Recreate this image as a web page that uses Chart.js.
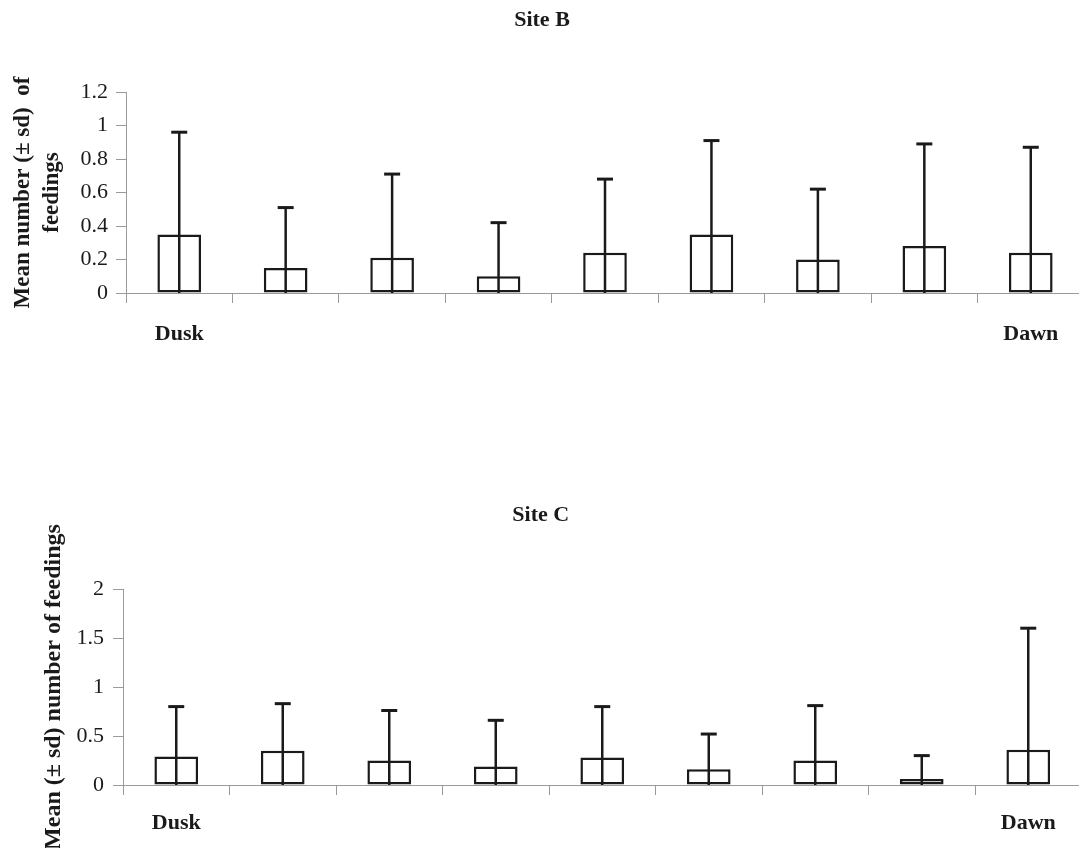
<!DOCTYPE html>
<html>
<head>
<meta charset="utf-8">
<script src="https://cdn.jsdelivr.net/npm/chart.js@4/dist/chart.umd.min.js"></script>
<style>
    html, body { margin: 0; padding: 0; background: #fff; overflow: hidden; }
    canvas { position: absolute; left: 0; }
    #chartB { top: 0; }
    #chartC { top: 460px; }
</style>
</head>
<body>
<canvas id="chartB" width="1090" height="365"></canvas>
<canvas id="chartC" width="1090" height="388"></canvas>
<script>
// hourly periods from dusk to dawn
const periods = ['Dusk', '', '', '', '', '', '', '', 'Dawn'];

// Site B
const meanB = [0.35, 0.15, 0.21, 0.10, 0.24, 0.35, 0.20, 0.28, 0.24];
const sdB = [0.61, 0.36, 0.50, 0.32, 0.44, 0.56, 0.42, 0.61, 0.63];
const tickLabelsB = ['0', '0.2', '0.4', '0.6', '0.8', '1', '1.2'];

// Site C
const meanC = [0.29, 0.35, 0.25, 0.19, 0.28, 0.16, 0.25, 0.06, 0.36];
const sdC = [0.51, 0.48, 0.51, 0.47, 0.52, 0.36, 0.56, 0.24, 1.24];
const tickLabelsC = ['0', '0.5', '1', '1.5', '2'];

const SERIF = '"Liberation Serif", "DejaVu Serif", serif';
const INK = '#1a1a1a';
const AXIS = '#9a9a9a';

Chart.defaults.font.family = SERIF;
Chart.defaults.color = INK;

const errorBars = {
    id: 'errorBars',
    afterDatasetsDraw(chart, args, opts) {
        const { ctx, scales: { y } } = chart;
        const meta = chart.getDatasetMeta(0);
        const y0 = y.getPixelForValue(0);
        ctx.save();
        ctx.strokeStyle = INK;
        meta.data.forEach((bar, i) => {
            const top = y.getPixelForValue(opts.mean[i] + opts.sd[i]);
            ctx.lineWidth = 2.5;
            ctx.beginPath();
            ctx.moveTo(bar.x, y0);
            ctx.lineTo(bar.x, top);
            ctx.stroke();
            ctx.lineWidth = 3;
            ctx.beginPath();
            ctx.moveTo(bar.x - 8, top);
            ctx.lineTo(bar.x + 8, top);
            ctx.stroke();
        });
        ctx.restore();
    }
};

const makeChart = (id, cfg) => {
    new Chart(document.getElementById(id), {
        type: 'bar',
        data: {
            labels: periods,
            datasets: [{
                data: cfg.mean,
                backgroundColor: '#ffffff',
                borderColor: INK,
                borderWidth: 2.5,
                borderSkipped: false,
                categoryPercentage: 1,
                barPercentage: 0.41
            }]
        },
        plugins: [errorBars],
        options: {
            responsive: false,
            animation: false,
            layout: { padding: { left: 0, right: cfg.padRight, top: 0, bottom: 0 } },
            plugins: {
                legend: { display: false },
                tooltip: { enabled: false },
                title: {
                    display: true,
                    text: cfg.title,
                    color: INK,
                    font: { size: 22, weight: 'bold', family: SERIF, lineHeight: 1.2 },
                    padding: cfg.titlePad
                },
                errorBars: { mean: cfg.mean, sd: cfg.sd }
            },
            scales: {
                x: {
                    grid: { drawOnChartArea: false, drawTicks: true, tickLength: 10, color: AXIS },
                    border: { display: true, color: AXIS },
                    ticks: {
                        autoSkip: false,
                        maxRotation: 0,
                        padding: cfg.xPad,
                        color: INK,
                        font: { size: 22, weight: 'bold', family: SERIF }
                    },
                    afterFit: (scale) => { scale.height = cfg.xHeight; }
                },
                y: {
                    min: 0,
                    max: cfg.max,
                    grid: { drawOnChartArea: false, drawTicks: true, tickLength: 10, color: AXIS },
                    border: { display: true, color: AXIS },
                    ticks: {
                        stepSize: cfg.step,
                        padding: cfg.yPad,
                        color: INK,
                        font: { size: 22, family: SERIF },
                        callback: (value, index) => cfg.tickLabels[index]
                    },
                    title: {
                        display: true,
                        text: cfg.yTitle,
                        color: INK,
                        font: { size: cfg.yTitleSize, weight: 'bold', family: SERIF, lineHeight: 1.26 },
                        padding: { top: cfg.yTitlePad, bottom: 0 }
                    },
                    afterFit: (scale) => { scale.width = cfg.yWidth; }
                }
            }
        }
    });
};

makeChart('chartB', {
    title: 'Site B',
    mean: meanB,
    sd: sdB,
    max: 1.2,
    step: 0.2,
    tickLabels: tickLabelsB,
    yTitle: ['Mean number (\u00b1 sd)  of', 'feedings'],
    yTitleSize: 23,
    yTitlePad: 8.5,
    titlePad: { top: 7, bottom: 58.6 },
    xHeight: 72,
    xPad: 18,
    yPad: 8,
    yWidth: 126,
    padRight: 6
});

makeChart('chartC', {
    title: 'Site C',
    mean: meanC,
    sd: sdC,
    max: 2,
    step: 0.5,
    tickLabels: tickLabelsC,
    yTitle: 'Mean (\u00b1 sd) number of feedings',
    yTitleSize: 24,
    yTitlePad: 39,
    titlePad: { top: 41.8, bottom: 60.8 },
    xHeight: 63,
    xPad: 15,
    yPad: 9,
    yWidth: 123,
    padRight: 8.5
});
</script>
</body>
</html>
